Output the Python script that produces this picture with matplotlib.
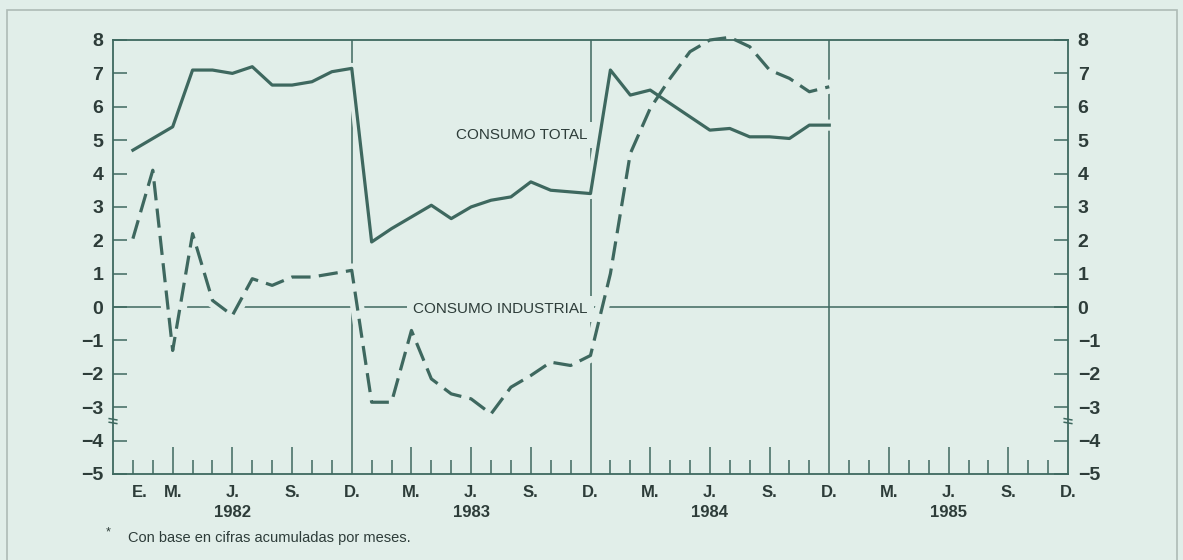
import numpy as np
import matplotlib.pyplot as plt
from matplotlib.patches import Rectangle

# monthly values, Jan 1982 (1) .. Dec 1984 (36)
months = list(range(1, 37))
consumo_total = [4.7, 5.05, 5.4, 7.1, 7.1, 7.0, 7.2, 6.65, 6.65, 6.75, 7.05, 7.15,
                 1.95, 2.35, 2.7, 3.05, 2.65, 3.0, 3.2, 3.3, 3.75, 3.5, 3.45, 3.4,
                 7.1, 6.35, 6.5, 6.1, 5.7, 5.3, 5.35, 5.1, 5.1, 5.05, 5.45, 5.45]
consumo_industrial = [2.05, 4.1, -1.3, 2.2, 0.2, -0.25, 0.85, 0.65, 0.9, 0.9, 1.0, 1.1,
                      -2.85, -2.85, -0.7, -2.15, -2.6, -2.75, -3.2, -2.4, -2.05, -1.65, -1.75, -1.45,
                      1.0, 4.6, 5.95, 6.85, 7.65, 8.0, 8.08, 7.8, 7.1, 6.85, 6.45, 6.6]

y_ticks = list(range(-5, 9))
month_pos = [3, 6, 9, 12]
month_names = ['M.', 'J.', 'S.', 'D.']
years = ['1982', '1983', '1984', '1985']

plt.rcParams['font.family'] = ['Liberation Sans', 'DejaVu Sans']

BG = '#e1eee9'
INK = '#3e685f'
TXT = '#2d3c39'

W, H = 1183, 560
fig = plt.figure(figsize=(W / 100, H / 100), dpi=100, facecolor=BG)
ax = fig.add_axes([113 / W, 1 - 474 / H, 955 / W, 434 / H])
ax.set_facecolor(BG)
ax.set_xlim(0, 48)
ax.set_ylim(-5, 8)

# reference lines: zero and year ends
ax.axhline(0, color=INK, lw=1.1, zorder=1)
for m in (12, 24, 36):
    ax.axvline(m, color=INK, lw=1.1, zorder=1)

# background halos so the lines cut through the reference lines
ax.plot(months, consumo_total, color=BG, lw=8, zorder=1.5)
ax.plot(months, consumo_industrial, color=BG, lw=10, zorder=1.5)

ax.plot(months, consumo_total, color=INK, lw=2.3, zorder=3)
ax.plot(months, consumo_industrial, color=INK, lw=2.3, dashes=(6, 2.6),
        zorder=3, clip_on=False)

for s in ax.spines.values():
    s.set_color(INK)
    s.set_linewidth(1.3)

# y axis: ticks inside, labels on both sides
ax.set_yticks(y_ticks)
ax.tick_params(axis='y', direction='in', length=10, width=1.1, color=INK,
               left=True, right=True, labelleft=True, labelright=True,
               labelsize=14, labelcolor=TXT, pad=7)
for lbl in ax.get_yticklabels():
    lbl.set_fontweight('bold')

# x axis: long ticks at M, J, S; short ticks at other months
long_ticks = [m for m in range(1, 48) if m % 12 in (3, 6, 9)]
short_ticks = [m for m in range(1, 48) if m % 12 not in (0, 3, 6, 9)]
ax.set_xticks(long_ticks)
ax.set_xticks(short_ticks, minor=True)
ax.tick_params(axis='x', which='major', direction='in', length=19.5, width=1.1,
               color=INK, labelbottom=False)
ax.tick_params(axis='x', which='minor', direction='in', length=10, width=1.1,
               color=INK)

# month and year labels
for i, yr in enumerate(years):
    base = 12 * i
    for p, name in zip(month_pos, month_names):
        ax.annotate(name, xy=(base + p, 0), xycoords=('data', 'axes fraction'),
                    xytext=(0, -13), textcoords='offset points',
                    ha='center', va='center', fontsize=12, fontweight='bold',
                    color=TXT, annotation_clip=False)
    ax.annotate(yr, xy=(base + 6, 0), xycoords=('data', 'axes fraction'),
                xytext=(0, -27.5), textcoords='offset points',
                ha='center', va='center', fontsize=12, fontweight='bold',
                color=TXT, annotation_clip=False)
ax.annotate('E.', xy=(1.35, 0), xycoords=('data', 'axes fraction'),
            xytext=(0, -13), textcoords='offset points',
            ha='center', va='center', fontsize=12, fontweight='bold',
            color=TXT, annotation_clip=False)

# series labels
ax.text(23.85, 5.15, 'CONSUMO TOTAL', ha='right', va='center', fontsize=11,
        color=TXT, zorder=4,
        bbox=dict(boxstyle='square,pad=0.4', fc=BG, ec='none'))
ax.text(23.85, -0.05, 'CONSUMO INDUSTRIAL', ha='right', va='center', fontsize=11,
        color=TXT, zorder=4,
        bbox=dict(boxstyle='square,pad=0.4', fc=BG, ec='none'))

# axis break marks
for xa in (0, 1):
    for yb in (-3.36, -3.47):
        ax.plot([xa - 0.004, xa + 0.004], [yb + 0.02, yb - 0.02],
                transform=ax.get_yaxis_transform(), color=INK, lw=1.1,
                clip_on=False, zorder=4)

# footnote
fig.text(108 / W, 1 - 532 / H, '*', fontsize=9, color=TXT, ha='center', va='center')
fig.text(128 / W, 1 - 538 / H, 'Con base en cifras acumuladas por meses.',
         fontsize=10.5, color=TXT, ha='left', va='center')

# outer frame
fig.patches.append(Rectangle((7 / W, -0.05), 1170 / W, 1.05 - 10 / H,
                             transform=fig.transFigure, fill=False,
                             edgecolor='#aebbb6', lw=1.2))

fig.savefig('out.png', dpi=100, facecolor=BG)
